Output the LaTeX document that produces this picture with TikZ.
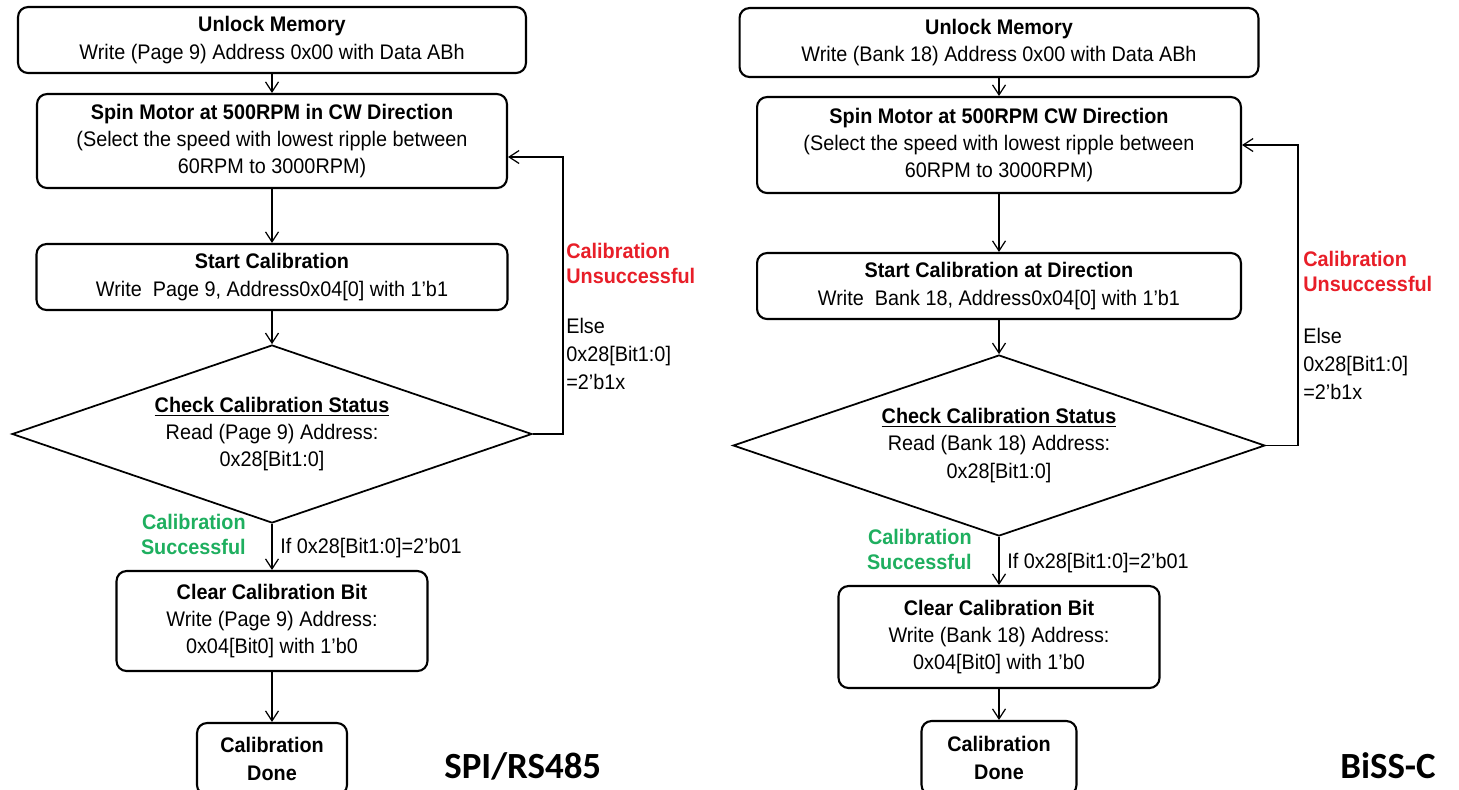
\documentclass[tikz,border=0pt]{standalone}
\usepackage{fontspec}
\setmainfont{Liberation Sans}[FakeStretch=0.94]
\newfontfamily\tagfont{Carlito}
\usetikzlibrary{shapes.geometric,arrows.meta}

\definecolor{failred}{RGB}{232,30,40}
\definecolor{passgreen}{RGB}{30,175,95}

\tikzset{
  stepbox/.style={draw, rounded corners=2mm, line width=1.2pt, align=center,
    inner sep=0pt, font=\fontsize{12}{15.5}\selectfont},
  checkbox/.style={draw, diamond, aspect=2.9, line width=1pt, align=center,
    inner sep=0pt, font=\fontsize{12}{15.5}\selectfont},
  flow/.style={-{Straight Barb[length=2mm,width=2.6mm]}, line width=0.7pt},
  note/.style={inner sep=0pt, font=\fontsize{12}{16}\selectfont},
  tag/.style={inner sep=0pt, anchor=base west, font=\tagfont\bfseries\fontsize{21}{25}\selectfont}
}

\begin{document}
\begin{tikzpicture}[x=0.02cm, y=-0.02cm]

    \fill[white] (0,0) rectangle (1459,789);
    \useasboundingbox (0,0) rectangle (1459,789);

    %% SPI/RS485 flow
    % Steps
    \node[stepbox, minimum width=10.16cm, minimum height=1.32cm] (unlockL) at (272,40)
        {\textbf{Unlock Memory}\\Write (Page 9) Address 0x00 with Data ABh};
    \node[stepbox, minimum width=9.4cm, minimum height=1.88cm] (spinL) at (272,141)
        {\textbf{Spin Motor at 500RPM in CW Direction}\\(Select the speed with lowest ripple between\\60RPM to 3000RPM)};
    \node[stepbox, minimum width=9.42cm, minimum height=1.32cm] (startL) at (272,277)
        {\textbf{Start Calibration}\\Write\ \ Page 9, Address0x04[0] with 1'b1};
    \node[checkbox, minimum width=10.4cm, minimum height=3.56cm] (checkL) at (272,434)
        {\underline{\textbf{Check Calibration Status}}\\Read (Page 9) Address:\\0x28[Bit1:0]};
    \node[stepbox, minimum width=6.22cm, minimum height=2cm] (clearL) at (272,621)
        {\textbf{Clear Calibration Bit}\\Write (Page 9) Address:\\0x04[Bit0] with 1'b0};
    \node[stepbox, minimum width=3cm, minimum height=1.44cm] (doneL) at (272,759)
        {\textbf{Calibration}\\\textbf{Done}};

    % Connectors
    \draw[flow] (unlockL) -- (spinL);
    \draw[flow] (spinL) -- (startL);
    \draw[flow] (startL) -- (checkL);
    \draw[flow] (checkL) -- (clearL);
    \draw[flow] (clearL) -- (doneL);
    \coordinate (loopL) at (563,157);
    \draw[flow] (checkL.east) -| (loopL) -- (loopL -| spinL.east);

    % Labels
    \node[note, anchor=north west, align=left, text=failred, font=\bfseries\fontsize{12}{14}\selectfont] (failL) at (566,243)
        {Calibration\\Unsuccessful};
    \node[note, anchor=north west, align=left] (elseL) at (566,318)
        {Else\\0x28[Bit1:0]\\=2'b1x};
    \node[note, anchor=north east, align=right, text=passgreen, font=\bfseries\fontsize{12}{14}\selectfont] (passL) at (246,514)
        {Calibration\\Successful};
    \node[note, anchor=base west] (ifL) at (280,553) {If 0x28[Bit1:0]=2'b01};
    \node[tag] (spiL) at (444,778) {SPI/RS485};

    %% BiSS-C flow
    % Steps
    \node[stepbox, minimum width=10.38cm, minimum height=1.38cm] (unlockR) at (999,42.5)
        {\textbf{Unlock Memory}\\Write (Bank 18) Address 0x00 with Data ABh};
    \node[stepbox, minimum width=9.68cm, minimum height=1.92cm] (spinR) at (999,145)
        {\textbf{Spin Motor at 500RPM CW Direction}\\(Select the speed with lowest ripple between\\60RPM to 3000RPM)};
    \node[stepbox, minimum width=9.68cm, minimum height=1.32cm] (startR) at (999,286)
        {\textbf{Start Calibration at Direction}\\Write\ \ Bank 18, Address0x04[0] with 1'b1};
    \node[checkbox, minimum width=10.64cm, minimum height=3.62cm] (checkR) at (999,445.5)
        {\underline{\textbf{Check Calibration Status}}\\Read (Bank 18) Address:\\0x28[Bit1:0]};
    \node[stepbox, minimum width=6.42cm, minimum height=2.04cm] (clearR) at (999,637)
        {\textbf{Clear Calibration Bit}\\Write (Bank 18) Address:\\0x04[Bit0] with 1'b0};
    \node[stepbox, minimum width=3.1cm, minimum height=1.48cm] (doneR) at (999,758)
        {\textbf{Calibration}\\\textbf{Done}};

    % Connectors
    \draw[flow] (unlockR) -- (spinR);
    \draw[flow] (spinR) -- (startR);
    \draw[flow] (startR) -- (checkR);
    \draw[flow] (checkR) -- (clearR);
    \draw[flow] (clearR) -- (doneR);
    \coordinate (loopR) at (1298,145);
    \draw[flow] (checkR.east) -| (loopR) -- (loopR -| spinR.east);

    % Labels
    \node[note, anchor=north west, align=left, text=failred, font=\bfseries\fontsize{12}{14}\selectfont] (failR) at (1303,251)
        {Calibration\\Unsuccessful};
    \node[note, anchor=north west, align=left] (elseR) at (1303,328)
        {Else\\0x28[Bit1:0]\\=2'b1x};
    \node[note, anchor=north east, align=right, text=passgreen, font=\bfseries\fontsize{12}{14}\selectfont] (passR) at (972,529)
        {Calibration\\Successful};
    \node[note, anchor=base west] (ifR) at (1007,568) {If 0x28[Bit1:0]=2'b01};
    \node[tag] (bissL) at (1340,778) {BiSS-C};

\end{tikzpicture}
\end{document}
